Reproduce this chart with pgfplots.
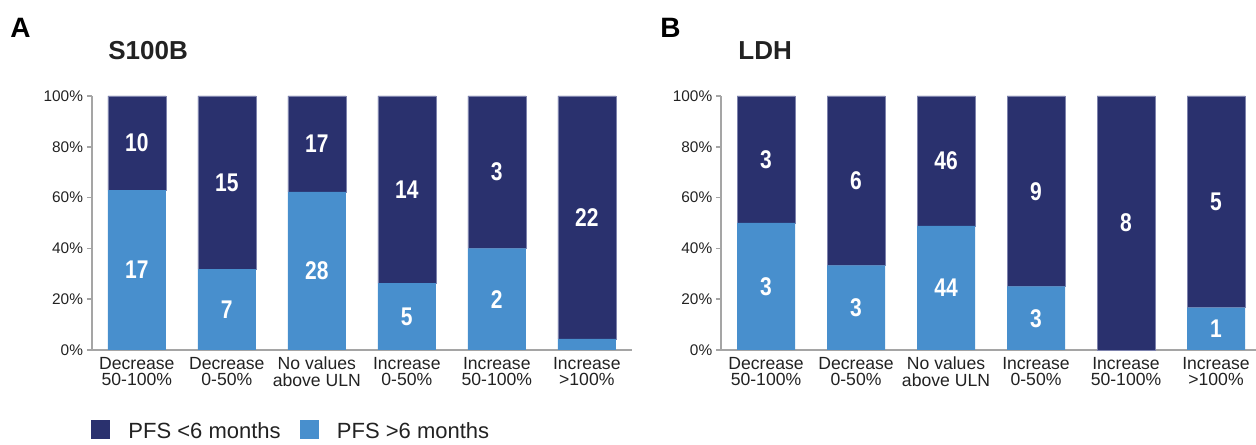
\documentclass[border=0pt]{standalone}
\usepackage{fontspec}
\setmainfont{Liberation Sans}
\newfontfamily\numfont[FakeStretch=0.82]{Liberation Sans}
\usepackage{pgfplots}
\usepackage{pgfplotstable}
\pgfplotsset{compat=1.18}
\definecolor{darkbar}{RGB}{42,49,110}
\definecolor{lightbar}{RGB}{72,143,205}
\definecolor{edge}{RGB}{125,130,172}
\definecolor{axgray}{RGB}{165,165,165}
\definecolor{txt}{RGB}{34,34,34}

% share of patients (%) per category: PFS >6 months (bottom), PFS <6 months (top)
\pgfplotstableread{
x gt lt
0 62.96 37.04
1 31.82 68.18
2 62.22 37.78
3 26.32 73.68
4 40.00 60.00
5 4.35 95.65
}\dataA
\pgfplotstableread{
x gt lt
0 50.00 50.00
1 33.33 66.67
2 48.89 51.11
3 25.00 75.00
4 0.00 100.00
5 16.67 83.33
}\dataB
% patient counts, placed at the middle of each segment
\pgfplotstableread{
x y lab
0 31.48 17
0 81.48 10
1 15.91 7
1 65.91 15
2 31.11 28
2 81.11 17
3 13.16 5
3 63.16 14
4 20.00 2
4 70.00 3
5 52.17 22
}\labA
\pgfplotstableread{
x y lab
0 25.00 3
0 75.00 3
1 16.67 3
1 66.67 6
2 24.44 44
2 74.44 46
3 12.50 3
3 62.50 9
4 50.00 8
5 8.33 1
5 58.33 5
}\labB

\pgfplotsset{
  geom/.style={
    anchor=south west, x=45pt, y=1.27pt,
    xmin=-0.5, xmax=5.5, ymin=0, ymax=100, clip=false,
  },
  panel/.style={
    geom,
    axis lines*=left,
    axis line style={axgray, line width=0.75pt},
    tick align=outside, major tick length=2.5pt,
    ytick={0,20,40,60,80,100},
    yticklabel={\pgfmathprintnumber{\tick}\%},
    /pgf/number format/assume math mode=true,
    ytick style={axgray, line width=0.75pt},
    xtick={0,1,2,3,4,5},
    xtick style={draw=none},
    xticklabels={{Decrease\\50-100\%},{Decrease\\0-50\%},{No values\\above ULN},{Increase\\0-50\%},{Increase\\50-100\%},{Increase\\>100\%}},
    yticklabel style={font=\fontsize{7.7}{8}\selectfont, text=txt, inner sep=0pt, anchor=east, xshift=-1.7pt},
    xticklabel style={font=\fontsize{8.8}{8.2}\selectfont, text=txt, inner sep=0pt, align=center, anchor=north, yshift=-0.9pt},
    ybar stacked, bar width=29pt,
  },
  labels/.style={
    geom, hide axis,
    every node near coord/.append style={anchor=center, text=white, inner sep=0pt,
      font=\numfont\bfseries\fontsize{12.8}{13}\selectfont},
  },
}

\begin{document}
\begin{tikzpicture}
\path[use as bounding box] (0,0) rectangle (628pt,222pt);

% Panel A
\begin{axis}[panel, at={(45.9pt,47pt)},
  legend columns=2,
  legend style={at={(-0.002,-0.318)}, anchor=west, draw=none, fill=none, inner sep=0pt,
    font=\fontsize{11}{11}\selectfont, text=txt,
    nodes={inner sep=0pt},
    /tikz/every even column/.append style={column sep=9.5pt}},
  legend image code/.code={\fill[#1] (0pt,-3.25pt) rectangle (9.5pt,6.25pt); \path[draw=none, fill=none] (0pt,0pt) -- (18.65pt,0pt);},
]
\addplot[fill=lightbar, draw=none, forget plot] table[x=x, y=gt] {\dataA};
\addplot[fill=darkbar, draw=edge, line width=0.3pt, forget plot] table[x=x, y=lt] {\dataA};
\addlegendimage{fill=darkbar, draw=none}
\addlegendentry{PFS <6 months}
\addlegendimage{fill=lightbar, draw=none}
\addlegendentry{PFS >6 months}
\end{axis}
\begin{axis}[labels, at={(45.9pt,47pt)}]
\addplot[only marks, mark=*, mark size=0pt, mark options={draw=none, fill=none},
  nodes near coords, point meta=explicit symbolic] table[x=x, y=y, meta=lab] {\labA};
\end{axis}

% Panel B
\begin{axis}[panel, at={(360.5pt,47pt)}]
\addplot[fill=lightbar, draw=none] table[x=x, y=gt] {\dataB};
\addplot[fill=darkbar, draw=edge, line width=0.3pt] table[x=x, y=lt] {\dataB};
\end{axis}
\begin{axis}[labels, at={(360.5pt,47pt)}]
\addplot[only marks, mark=*, mark size=0pt, mark options={draw=none, fill=none},
  nodes near coords, point meta=explicit symbolic] table[x=x, y=y, meta=lab] {\labB};
\end{axis}

% panel letters and titles
\node[anchor=base west, inner sep=0pt, font=\bfseries\fontsize{14}{14}\selectfont] at (5pt,203pt) {A};
\node[anchor=base west, inner sep=0pt, font=\bfseries\fontsize{13}{13}\selectfont, text=txt] at (54pt,192pt) {S100B};
\node[anchor=base west, inner sep=0pt, font=\bfseries\fontsize{14}{14}\selectfont] at (330pt,203pt) {B};
\node[anchor=base west, inner sep=0pt, font=\bfseries\fontsize{13}{13}\selectfont, text=txt] at (369pt,192pt) {LDH};
\end{tikzpicture}
\end{document}
